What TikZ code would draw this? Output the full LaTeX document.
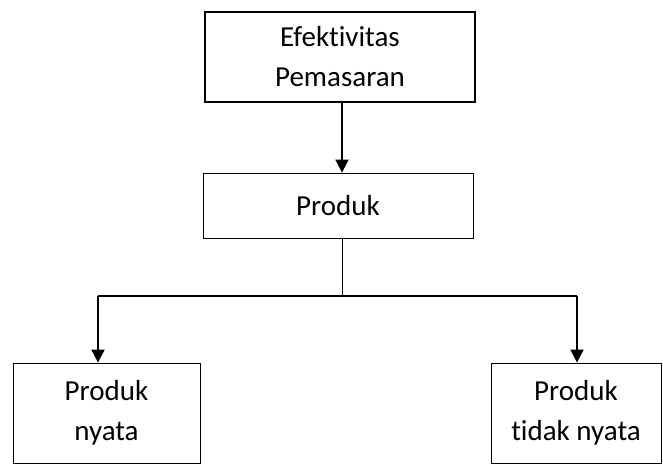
\documentclass[tikz,border=0pt]{standalone}
\usepackage{fontspec}
\setmainfont{Carlito}[Ligatures={NoCommon}]
\usetikzlibrary{arrows.meta}

\begin{document}
\begin{tikzpicture}
  [x=1pt,y=-1pt,line cap=butt,
   % Styles
   box/.style={draw,line width=0.8pt,align=center,inner sep=0pt,
               font=\fontsize{29}{40}\selectfont},
   heavy box/.style={box,line width=1.8pt},
   link/.style={line width=1.8pt},
   arrow/.style={link,-{Triangle[length=13pt,width=13pt]}}]

  % Frame
  \useasboundingbox (0,0) rectangle (663,464);

  % Boxes
  \node[heavy box,minimum width=270pt,minimum height=90pt] (efektivitas)
    at (340,57) {Efektivitas\\Pemasaran};
  \node[box,minimum width=270pt,minimum height=65pt] (produk)
    at (338,205.5) {Produk};
  \node[box,minimum width=187pt,minimum height=100pt] (nyata)
    at (106.5,413) {Produk\\nyata};
  \node[box,minimum width=170pt,minimum height=100pt] (tidaknyata)
    at (576,413) {Produk\\tidak nyata};

  % Branch points
  \coordinate (forkL) at (98,296);
  \coordinate (forkR) at (577,296);

  % Connectors
  \draw[arrow] (efektivitas.south -| 342,0) -- (produk.north -| 342,0);
  \draw[line width=1pt] (produk.south -| 342,0) -- (forkL -| 342,0);
  \draw[link] (forkL) -- (forkR);
  \draw[arrow] (forkL) -- (forkL |- nyata.north);
  \draw[arrow] (forkR) -- (forkR |- tidaknyata.north);
\end{tikzpicture}
\end{document}
